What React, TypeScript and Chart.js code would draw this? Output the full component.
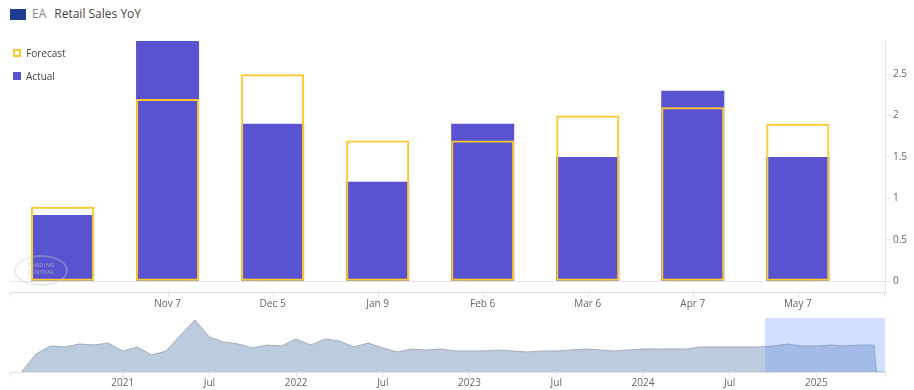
import React, { useEffect, useRef } from "react";
import { Chart, registerables } from "chart.js";

Chart.register(...registerables);

// ---- Main chart data ----
const CATEGORIES = ["", "Nov 7", "Dec 5", "Jan 9", "Feb 6", "Mar 6", "Apr 7", "May 7"];
const FORECAST = [0.9, 2.2, 2.5, 1.7, 1.7, 2.0, 2.1, 1.9];
const ACTUAL = [0.8, 2.9, 1.9, 1.2, 1.9, 1.5, 2.3, 1.5];
const Y_TICKS = [0, 0.5, 1, 1.5, 2, 2.5];
const Y_MIN = -0.13;
const Y_MAX = 2.9;
const X_MIN = -0.5;
const X_MAX = 7.83;
const X_LABELED = [1, 2, 3, 4, 5, 6, 7];

// ---- Navigator data (month index, 0 = Jan 2021) ----
const NAV_MONTHS = [
  -7, -6, -5, -4, -3, -2, -1, 0, 1, 2, 3, 4, 5, 6, 7, 8, 9, 10, 11, 12, 13, 14, 15, 16, 17, 18, 19,
  20, 21, 22, 23, 24, 25, 26, 27, 28, 29, 30, 31, 32, 33, 34, 35, 36, 37, 38, 39, 40, 41, 42, 43,
  44, 45, 46, 47, 48, 49, 50, 51, 52, 52.15, 52.75,
];
const NAV_VALUES = [
  0, 18, 26, 25, 28, 27, 29, 21, 25, 17, 21, 37, 52, 35, 30, 28, 24, 27, 26, 33, 27, 33, 31, 25, 29,
  24, 20, 23, 22, 23, 21, 21, 21, 22, 21, 20, 21, 21, 22, 23, 22, 21, 22, 23, 23, 23, 23, 25, 25, 25,
  25, 25, 26, 28, 26, 26, 27, 26, 27, 27, 0, 0,
];
const NAV_TICK_MONTHS = [0, 6, 12, 18, 24, 30, 36, 42, 48];
const NAV_TICK_LABELS = ["2021", "Jul", "2022", "Jul", "2023", "Jul", "2024", "Jul", "2025"];
const NAV_MIN = -7.8;
const NAV_MAX = 52.75;
const NAV_SEL_START = 44.45;
const NAV_SEL_END = 52.75;

const FONT = "'Open Sans', sans-serif";
const PURPLE = "#5a53d1";
const YELLOW = "#ffc82c";
const AXIS_GRAY = "#e0e0e0";
const LABEL_GRAY = "#666666";

// draws the category tick marks and the two axis-end ticks below the x axis line
const xTickMarksPlugin = {
  id: "xTickMarks",
  afterDraw(chart: any) {
    const { ctx, chartArea, scales } = chart;
    const xs = [chartArea.left + 0.5, chartArea.right - 0.5].concat(
      X_LABELED.map((v) => Math.round(scales.x.getPixelForValue(v)) + 0.5)
    );
    ctx.save();
    ctx.strokeStyle = AXIS_GRAY;
    ctx.lineWidth = 1;
    xs.forEach((x) => {
      ctx.beginPath();
      ctx.moveTo(x, chartArea.bottom);
      ctx.lineTo(x, chartArea.bottom + 5);
      ctx.stroke();
    });
    ctx.restore();
  },
};

const selectionPlugin = {
  id: "navSelection",
  afterDatasetsDraw(chart: any) {
    const { ctx, chartArea, scales } = chart;
    const x0 = scales.x.getPixelForValue(NAV_SEL_START);
    const x1 = scales.x.getPixelForValue(NAV_SEL_END);
    ctx.save();
    ctx.fillStyle = "rgba(102,153,255,0.3)";
    ctx.fillRect(x0, chartArea.top, x1 - x0, chartArea.bottom - chartArea.top);
    ctx.restore();
  },
};

export default function App() {
  const mainRef = useRef<HTMLCanvasElement | null>(null);
  const navRef = useRef<HTMLCanvasElement | null>(null);

  useEffect(() => {
    Chart.defaults.font.family = FONT;
    Chart.defaults.color = LABEL_GRAY;

    const main = new Chart(mainRef.current as HTMLCanvasElement, {
      type: "bar",
      data: {
        datasets: [
          {
            label: "Forecast",
            data: CATEGORIES.map((_, i) => ({ x: i, y: FORECAST[i] })),
            backgroundColor: "rgba(0,0,0,0)",
            borderColor: YELLOW,
            borderWidth: 2,
            borderSkipped: false,
            order: 0,
          },
          {
            label: "Actual",
            data: CATEGORIES.map((_, i) => ({ x: i, y: ACTUAL[i] })),
            backgroundColor: PURPLE,
            borderWidth: 0,
            order: 1,
          },
        ],
      },
      options: {
        animation: false,
        responsive: false,
        grouped: false,
        barPercentage: 0.6,
        categoryPercentage: 1,
        layout: { padding: { left: 10, right: 0, top: 41, bottom: 0 } },
        plugins: { legend: { display: false }, tooltip: { enabled: false }, title: { display: false } },
        scales: {
          x: {
            type: "linear",
            offset: false,
            min: X_MIN,
            max: X_MAX,
            afterBuildTicks: (axis: any) => {
              axis.ticks = X_LABELED.map((v) => ({ value: v }));
            },
            afterFit: (axis: any) => {
              axis.height = 20;
            },
            ticks: {
              autoSkip: false,
              maxRotation: 0,
              padding: 6,
              font: { size: 10, family: FONT },
              color: LABEL_GRAY,
              callback: (v: any) => CATEGORIES[Math.round(Number(v))] ?? "",
            },
            grid: {
              display: true,
              offset: false,
              drawOnChartArea: false,
              drawTicks: false,
            },
            border: { display: true, color: AXIS_GRAY, width: 1 },
          },
          y: {
            type: "linear",
            position: "right",
            min: Y_MIN,
            max: Y_MAX,
            afterBuildTicks: (axis: any) => {
              axis.ticks = Y_TICKS.map((v) => ({ value: v }));
            },
            afterFit: (axis: any) => {
              axis.width = 29;
            },
            ticks: {
              padding: 3,
              font: { size: 10, family: FONT },
              color: LABEL_GRAY,
              callback: (v: any) => String(v),
            },
            grid: {
              color: (c: any) => (c.tick && c.tick.value === 0 ? "#e6e6e6" : "rgba(0,0,0,0)"),
              tickColor: "#e6e6e6",
              tickLength: 5,
              drawTicks: true,
            },
            border: { display: true, color: "#e6e6e6", width: 1 },
          },
        },
      } as any,
      plugins: [xTickMarksPlugin],
    });

    const nav = new Chart(navRef.current as HTMLCanvasElement, {
      type: "line",
      data: {
        datasets: [
          {
            data: NAV_MONTHS.map((m, i) => ({ x: m, y: NAV_VALUES[i] })),
            borderColor: "#a2acb9",
            borderWidth: 1,
            backgroundColor: "#bccbdd",
            fill: "origin",
            pointRadius: 0,
            tension: 0,
          },
        ],
      },
      options: {
        animation: false,
        responsive: false,
        layout: { padding: { left: 10, right: 29, top: 6, bottom: 0 } },
        plugins: { legend: { display: false }, tooltip: { enabled: false } },
        scales: {
          x: {
            type: "linear",
            min: NAV_MIN,
            max: NAV_MAX,
            afterBuildTicks: (axis: any) => {
              axis.ticks = [NAV_MIN, ...NAV_TICK_MONTHS, NAV_MAX].map((v) => ({ value: v }));
            },
            afterFit: (axis: any) => {
              axis.height = 18;
            },
            ticks: {
              autoSkip: false,
              maxRotation: 0,
              padding: 0,
              font: { size: 10, family: FONT },
              color: LABEL_GRAY,
              callback: (v: any) => {
                const idx = NAV_TICK_MONTHS.indexOf(Number(v));
                return idx >= 0 ? NAV_TICK_LABELS[idx] : "";
              },
            },
            grid: {
              drawOnChartArea: false,
              drawTicks: true,
              tickLength: 5,
              tickColor: AXIS_GRAY,
            },
            border: { display: true, color: AXIS_GRAY, width: 1 },
          },
          y: {
            display: false,
            min: 0,
            max: 54,
          },
        },
      } as any,
      plugins: [selectionPlugin],
    });

    return () => {
      main.destroy();
      nav.destroy();
    };
  }, []);

  return (
    <div
      style={{
        position: "absolute",
        left: 0,
        top: 0,
        width: 914,
        height: 390,
        background: "#ffffff",
        overflow: "hidden",
        fontFamily: FONT,
      }}
    >
      {/* Title */}
      <div style={{ position: "absolute", left: 10, top: 9, width: 16, height: 11, background: "#1f3a93" }} />
      <div
        style={{
          position: "absolute",
          left: 32,
          top: 7.5,
          fontSize: 12,
          lineHeight: "12px",
          whiteSpace: "nowrap",
          color: "#444",
        }}
      >
        <span style={{ color: "#888" }}>EA</span>
        <span style={{ marginLeft: 8 }}>Retail Sales YoY</span>
      </div>

      <canvas
        ref={mainRef}
        width={914}
        height={312}
        style={{ position: "absolute", left: 0, top: 0, width: 914, height: 312 }}
      />
      <canvas
        ref={navRef}
        width={914}
        height={78}
        style={{ position: "absolute", left: 0, top: 312, width: 914, height: 78 }}
      />

      {/* Legend */}
      <div
        style={{
          position: "absolute",
          left: 13,
          top: 49,
          width: 8,
          height: 8,
          boxSizing: "border-box",
          border: `2px solid ${YELLOW}`,
          background: "#fff",
        }}
      />
      <div
        style={{
          position: "absolute",
          left: 26,
          top: 47.8,
          fontSize: 10,
          lineHeight: "10px",
          color: "#444",
          whiteSpace: "nowrap",
        }}
      >
        Forecast
      </div>
      <div style={{ position: "absolute", left: 13, top: 72, width: 8, height: 8, background: PURPLE }} />
      <div
        style={{
          position: "absolute",
          left: 26,
          top: 71.1,
          fontSize: 10,
          lineHeight: "10px",
          color: "#444",
          whiteSpace: "nowrap",
        }}
      >
        Actual
      </div>

      {/* Watermark */}
      <div
        style={{
          position: "absolute",
          left: 14,
          top: 255,
          width: 54,
          height: 31,
          borderRadius: "50%",
          border: "2px solid rgba(200,200,200,0.35)",
          boxSizing: "border-box",
          pointerEvents: "none",
        }}
      />
      <div
        style={{
          position: "absolute",
          left: 11,
          top: 262,
          width: 60,
          textAlign: "center",
          fontSize: 6,
          lineHeight: "7px",
          fontWeight: 700,
          whiteSpace: "nowrap",
          color: "rgba(185,185,185,0.55)",
          pointerEvents: "none",
        }}
      >
        TRADING
        <br />
        CENTRAL
      </div>
    </div>
  );
}
